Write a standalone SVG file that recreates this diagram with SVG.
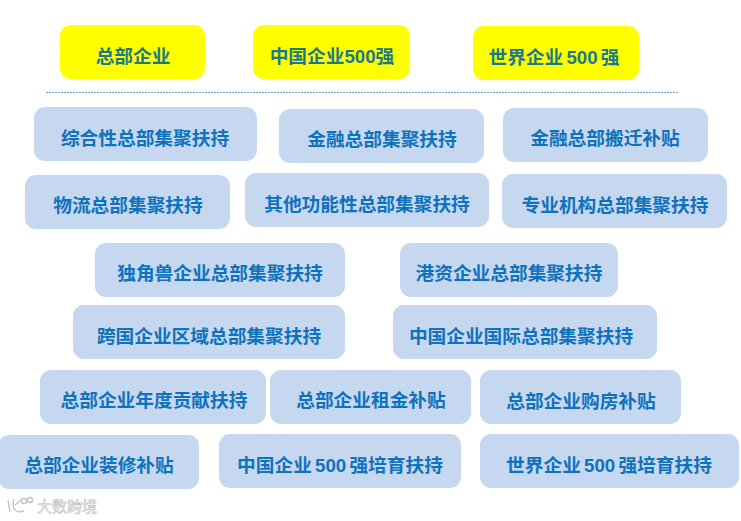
<svg xmlns="http://www.w3.org/2000/svg" width="741" height="521" viewBox="0 0 741 521">
<style>
text{font-family:"Liberation Sans","Noto Sans CJK SC",sans-serif;font-weight:700;font-size:18.7px;text-anchor:middle;word-spacing:-2px}
.y rect{fill:#ffff00}
.y text{fill:#1a7a8a}
.b rect{fill:#c6d8ef}
.b text{fill:#0f72bd}
.wm{fill:#fff;stroke:#c0c0c0;stroke-width:.6;font-size:15px;font-weight:400;text-anchor:start}
</style>
<rect width="741" height="521" fill="#fff"/>
<g id="connectors"><line x1="46" y1="92.5" x2="679" y2="92.5" stroke="#6f9fc8" stroke-width="1" stroke-dasharray="2 1"/></g>
<g id="n1" class="y"><rect x="60" y="25" width="145" height="54" rx="11"/><text x="133" y="63">总部企业</text></g>
<g id="n2" class="y"><rect x="253" y="25" width="157" height="54" rx="11"/><text x="332" y="63">中国企业500强</text></g>
<g id="n3" class="y"><rect x="473" y="26" width="166" height="54" rx="11"/><text x="554" y="64">世界企业 500 强</text></g>
<g id="n4" class="b"><rect x="34" y="107" width="223" height="54" rx="11"/><text x="145" y="145">综合性总部集聚扶持</text></g>
<g id="n5" class="b"><rect x="279" y="109" width="205" height="54" rx="11"/><text x="382" y="146">金融总部集聚扶持</text></g>
<g id="n6" class="b"><rect x="503" y="108" width="205" height="54" rx="11"/><text x="605" y="145">金融总部搬迁补贴</text></g>
<g id="n7" class="b"><rect x="25" y="175" width="205" height="54" rx="11"/><text x="128" y="212">物流总部集聚扶持</text></g>
<g id="n8" class="b"><rect x="245" y="173" width="244" height="54" rx="11"/><text x="367" y="211">其他功能性总部集聚扶持</text></g>
<g id="n9" class="b"><rect x="502" y="174" width="225" height="54" rx="11"/><text x="615" y="212">专业机构总部集聚扶持</text></g>
<g id="n10" class="b"><rect x="95" y="243" width="250" height="54" rx="11"/><text x="220" y="280">独角兽企业总部集聚扶持</text></g>
<g id="n11" class="b"><rect x="400" y="243" width="218" height="54" rx="11"/><text x="509" y="280">港资企业总部集聚扶持</text></g>
<g id="n12" class="b"><rect x="73" y="305" width="272" height="54" rx="11"/><text x="209" y="343">跨国企业区域总部集聚扶持</text></g>
<g id="n13" class="b"><rect x="393" y="305" width="264" height="54" rx="11"/><text x="521" y="343">中国企业国际总部集聚扶持</text></g>
<g id="n14" class="b"><rect x="40" y="370" width="226" height="54" rx="11"/><text x="154" y="407">总部企业年度贡献扶持</text></g>
<g id="n15" class="b"><rect x="270" y="370" width="201" height="54" rx="11"/><text x="371" y="407">总部企业租金补贴</text></g>
<g id="n16" class="b"><rect x="480" y="370" width="201" height="54" rx="11"/><text x="581" y="408">总部企业购房补贴</text></g>
<g id="n17" class="b"><rect x="-2" y="435" width="201" height="54" rx="11"/><text x="99" y="472">总部企业装修补贴</text></g>
<g id="n18" class="b"><rect x="219" y="434" width="242" height="54" rx="11"/><text x="340" y="472">中国企业 500 强培育扶持</text></g>
<g id="n19" class="b"><rect x="480" y="434" width="259" height="54" rx="11"/><text x="609" y="472">世界企业 500 强培育扶持</text></g>
<g fill="none" stroke="#c4c4c4" stroke-width="1.4"><path d="M8 500l2 12M14 499q-2 8 1 11q4 3 9 1M15 505l7-6"/><circle cx="24" cy="501" r="2.5"/><circle cx="30" cy="500" r="2.5"/></g>
<text class="wm" x="37" y="512">大数跨境</text>
</svg>
